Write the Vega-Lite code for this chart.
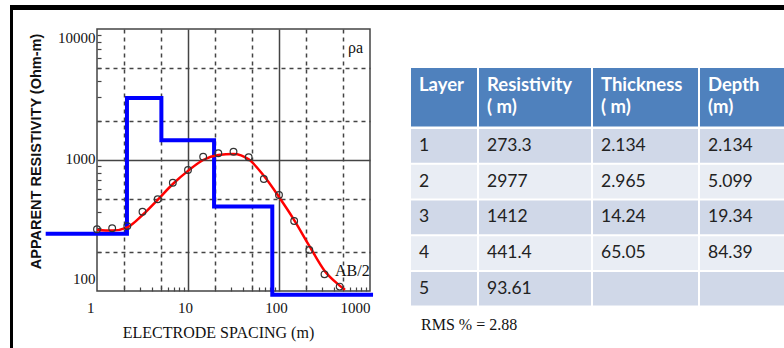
{
  "$schema": "https://vega.github.io/schema/vega-lite/v6.json",
  "background": "white",
  "padding": {"left": 10, "top": 5, "right": 0, "bottom": 0},
  "config": {"view": {"stroke": null}},
  "datasets": {
    "layers": [
      {"Layer": 1, "Resistivity": 273.3, "Thickness": 2.134, "Depth": 2.134},
      {"Layer": 2, "Resistivity": 2977, "Thickness": 2.965, "Depth": 5.099},
      {"Layer": 3, "Resistivity": 1412, "Thickness": 14.24, "Depth": 19.34},
      {"Layer": 4, "Resistivity": 441.4, "Thickness": 65.05, "Depth": 84.39},
      {"Layer": 5, "Resistivity": 93.61, "Thickness": null, "Depth": null}
    ],
    "model": [
      {"spacing": 0.273, "rho": 273.3},
      {"spacing": 2.134, "rho": 2977},
      {"spacing": 5.099, "rho": 1412},
      {"spacing": 19.34, "rho": 441.4},
      {"spacing": 84.39, "rho": 93.61},
      {"spacing": 1080, "rho": 93.61}
    ],
    "fit": [
      {"spacing": 1, "rho": 292},
      {"spacing": 1.468, "rho": 289},
      {"spacing": 2.154, "rho": 306},
      {"spacing": 3.162, "rho": 380},
      {"spacing": 4.642, "rho": 497},
      {"spacing": 6.813, "rho": 656},
      {"spacing": 10, "rho": 826},
      {"spacing": 14.68, "rho": 1000},
      {"spacing": 21.54, "rho": 1092},
      {"spacing": 31.62, "rho": 1113},
      {"spacing": 46.42, "rho": 1012},
      {"spacing": 68.13, "rho": 757},
      {"spacing": 100, "rho": 522},
      {"spacing": 146.8, "rho": 348},
      {"spacing": 215.4, "rho": 221},
      {"spacing": 316.2, "rho": 143},
      {"spacing": 464.2, "rho": 110},
      {"spacing": 530, "rho": 102}
    ],
    "observed": [
      {"spacing": 1, "rho": 296},
      {"spacing": 1.468, "rho": 301},
      {"spacing": 2.154, "rho": 313},
      {"spacing": 3.162, "rho": 403},
      {"spacing": 4.642, "rho": 501},
      {"spacing": 6.813, "rho": 671},
      {"spacing": 10, "rho": 839},
      {"spacing": 14.68, "rho": 1060},
      {"spacing": 21.54, "rho": 1125},
      {"spacing": 31.62, "rho": 1157},
      {"spacing": 46.42, "rho": 1049},
      {"spacing": 68.13, "rho": 716},
      {"spacing": 100, "rho": 541},
      {"spacing": 146.8, "rho": 342},
      {"spacing": 215.4, "rho": 206},
      {"spacing": 316.2, "rho": 134},
      {"spacing": 464.2, "rho": 108}
    ]
  },
  "spacing": 0,
  "resolve": {"scale": {"x": "independent", "y": "independent"}},
  "vconcat": [
    {"width": 774, "height": 5, "view": {"fill": "#000000", "stroke": null}, "data": {"values": []}, "mark": "point"},
    {
      "spacing": 14,
      "resolve": {"scale": {"x": "independent", "y": "independent"}},
      "hconcat": [
        {"width": 3, "height": 338, "view": {"fill": "#000000", "stroke": null}, "data": {"values": []}, "mark": "point"},
        {
          "spacing": 0,
          "resolve": {"scale": {"x": "independent", "y": "independent"}},
          "vconcat": [
            {"width": 1, "height": 18, "data": {"values": []}, "mark": "point"},
            {
              "width": 273,
              "height": 262,
              "view": {"stroke": "#444444", "strokeWidth": 1.5},
              "resolve": {"axis": {"x": "independent", "y": "independent"}},
              "layer": [
                {
                  "data": {"name": "model"},
                  "mark": {"type": "line", "interpolate": "step-after", "color": "#0000ff", "strokeWidth": 4, "clip": false},
                  "encoding": {
                    "x": {"field": "spacing", "type": "quantitative", "scale": {"type": "log", "domain": [1, 1000], "nice": false},
                      "axis": {"orient": "bottom", "values": [10, 100], "grid": true, "gridColor": "#444444", "gridWidth": 1.5, "ticks": false, "labels": false, "domain": false, "title": null}},
                    "y": {"field": "rho", "type": "quantitative", "scale": {"type": "log", "domain": [100, 10000], "nice": false},
                      "axis": {"orient": "left", "values": [1000], "grid": true, "gridColor": "#444444", "gridWidth": 1.5, "ticks": false, "labels": false, "domain": false, "title": null}}
                  }
                },
                {
                  "data": {"name": "fit"},
                  "mark": {"type": "line", "interpolate": "monotone", "color": "#ff0000", "strokeWidth": 2.5},
                  "encoding": {
                    "x": {"field": "spacing", "type": "quantitative", "scale": {"type": "log", "domain": [1, 1000], "nice": false},
                      "axis": {"orient": "bottom", "values": [1, 10, 100, 1000], "format": "d", "grid": false, "ticks": false, "tickSize": 0, "domain": false,
                        "labelFlush": false, "labelFont": "Liberation Serif", "labelFontSize": 15, "labelColor": "#111111", "labelPadding": 9,
                        "labelAlign": {"condition": {"test": "datum.value == 1 || datum.value == 1000", "value": "right"}, "value": "center"},
                        "labelOffset": {"condition": {"test": "datum.value == 1000", "value": 0}, "value": -3},
                        "title": "ELECTRODE SPACING (m)", "titleFont": "Liberation Serif", "titleFontSize": 16, "titleFontWeight": "normal", "titleColor": "#111111",
                        "titleX": 121, "titleY": 46, "titleBaseline": "alphabetic", "titleAlign": "center"}},
                    "y": {"field": "rho", "type": "quantitative", "scale": {"type": "log", "domain": [100, 10000], "nice": false},
                      "axis": {"orient": "left", "values": [100, 1000, 10000], "format": "d", "grid": false, "ticks": false, "tickSize": 0, "domain": false,
                        "labelFlush": false, "labelFont": "Liberation Serif", "labelFontSize": 15, "labelColor": "#111111", "labelPadding": 2, "labelBaseline": "middle",
                        "labelOffset": {"condition": [{"test": "datum.value == 10000", "value": 8}, {"test": "datum.value == 100", "value": -12.5}], "value": -1.5},
                        "title": "APPARENT RESISTIVITY (Ohm-m)", "titleFont": "Liberation Sans", "titleFontSize": 14.5, "titleFontWeight": "bold", "titleColor": "#111111",
                        "titleX": -57, "titleY": 122, "titleBaseline": "alphabetic", "titleAlign": "center"}}
                  }
                },
                {
                  "data": {"name": "observed"},
                  "mark": {"type": "point", "shape": "circle", "filled": false, "color": "#333333", "size": 45, "strokeWidth": 1.2, "opacity": 1},
                  "encoding": {
                    "x": {"field": "spacing", "type": "quantitative", "scale": {"type": "log", "domain": [1, 1000], "nice": false},
                      "axis": {"orient": "bottom", "values": [2, 5, 20, 50, 200, 500], "grid": true, "gridColor": "#444444", "gridWidth": 1.5, "gridDash": [4, 4], "ticks": false, "labels": false, "domain": false, "title": null}},
                    "y": {"field": "rho", "type": "quantitative", "scale": {"type": "log", "domain": [100, 10000], "nice": false},
                      "axis": {"orient": "left", "values": [200, 500, 2000, 5000], "grid": true, "gridColor": "#444444", "gridWidth": 1.5, "gridDash": [4, 4], "ticks": false, "labels": false, "domain": false, "title": null}}
                  }
                },
                {
                  "data": {"values": [{"label": "ρa"}]},
                  "mark": {"type": "text", "align": "left", "baseline": "alphabetic", "font": "Liberation Serif", "fontSize": 16, "color": "#111111"},
                  "encoding": {
                    "x": {"datum": 573, "type": "quantitative", "scale": {"type": "log", "domain": [1, 1000], "nice": false},
                      "axis": {"orient": "bottom", "values": [2, 3, 4, 5, 6, 7, 8, 9, 20, 30, 40, 50, 60, 70, 80, 90, 200, 300, 400, 500, 600, 700, 800, 900], "ticks": true, "tickSize": -4, "tickColor": "#444444", "tickWidth": 1.2, "labels": false, "grid": false, "domain": false, "title": null}},
                    "y": {"datum": 6600, "type": "quantitative", "scale": {"type": "log", "domain": [100, 10000], "nice": false},
                      "axis": {"orient": "left", "values": [200, 300, 400, 500, 600, 700, 800, 900, 2000, 3000, 4000, 5000, 6000, 7000, 8000, 9000], "ticks": true, "tickSize": -4, "tickColor": "#444444", "tickWidth": 1.2, "labels": false, "grid": false, "domain": false, "title": null}},
                    "text": {"field": "label", "type": "nominal"}
                  }
                },
                {
                  "data": {"values": [{"label": "AB/2"}]},
                  "mark": {"type": "text", "align": "left", "baseline": "alphabetic", "font": "Liberation Serif", "fontSize": 16, "color": "#111111"},
                  "encoding": {
                    "x": {"datum": 412, "type": "quantitative", "scale": {"type": "log", "domain": [1, 1000], "nice": false}, "axis": null},
                    "y": {"datum": 130, "type": "quantitative", "scale": {"type": "log", "domain": [100, 10000], "nice": false}, "axis": null},
                    "text": {"field": "label", "type": "nominal"}
                  }
                }
              ]
            }
          ]
        },
        {"width": 1, "height": 1, "data": {"values": []}, "mark": "point"},
        {
          "spacing": 2,
          "resolve": {"scale": {"x": "independent", "y": "independent"}},
          "vconcat": [
            {"width": 1, "height": 56, "data": {"values": []}, "mark": "point"},
            {
              "spacing": 2,
              "resolve": {"scale": {"x": "independent", "y": "independent"}},
              "hconcat": [
                {"width": 66, "height": 58.4, "view": {"fill": "#4f81bd", "stroke": null},
                 "data": {"values": [{"heading": "Layer"}]},
                 "mark": {"type": "text", "align": "left", "baseline": "top", "dx": 8, "dy": 8, "lineBreak": "\n", "lineHeight": 21.5, "font": "Lato", "fontSize": 18.5, "fontWeight": "bold", "color": "#ffffff"},
                 "encoding": {
                   "x": {"datum": "cell", "type": "nominal", "bandPosition": 0, "axis": null, "scale": {"type": "band", "paddingInner": 0, "paddingOuter": 0}},
                   "y": {"datum": "cell", "type": "nominal", "bandPosition": 0, "axis": null, "scale": {"type": "band", "paddingInner": 0, "paddingOuter": 0}},
                   "text": {"field": "heading", "type": "nominal"}}},
                {"width": 112, "height": 58.4, "view": {"fill": "#4f81bd", "stroke": null},
                 "data": {"values": [{"heading": "Resistivity\n( m)"}]},
                 "mark": {"type": "text", "align": "left", "baseline": "top", "dx": 8, "dy": 8, "lineBreak": "\n", "lineHeight": 21.5, "font": "Lato", "fontSize": 18.5, "fontWeight": "bold", "color": "#ffffff"},
                 "encoding": {
                   "x": {"datum": "cell", "type": "nominal", "bandPosition": 0, "axis": null, "scale": {"type": "band", "paddingInner": 0, "paddingOuter": 0}},
                   "y": {"datum": "cell", "type": "nominal", "bandPosition": 0, "axis": null, "scale": {"type": "band", "paddingInner": 0, "paddingOuter": 0}},
                   "text": {"field": "heading", "type": "nominal"}}},
                {"width": 105, "height": 58.4, "view": {"fill": "#4f81bd", "stroke": null},
                 "data": {"values": [{"heading": "Thickness\n( m)"}]},
                 "mark": {"type": "text", "align": "left", "baseline": "top", "dx": 8, "dy": 8, "lineBreak": "\n", "lineHeight": 21.5, "font": "Lato", "fontSize": 18.5, "fontWeight": "bold", "color": "#ffffff"},
                 "encoding": {
                   "x": {"datum": "cell", "type": "nominal", "bandPosition": 0, "axis": null, "scale": {"type": "band", "paddingInner": 0, "paddingOuter": 0}},
                   "y": {"datum": "cell", "type": "nominal", "bandPosition": 0, "axis": null, "scale": {"type": "band", "paddingInner": 0, "paddingOuter": 0}},
                   "text": {"field": "heading", "type": "nominal"}}},
                {"width": 84, "height": 58.4, "view": {"fill": "#4f81bd", "stroke": null},
                 "data": {"values": [{"heading": "Depth\n(m)"}]},
                 "mark": {"type": "text", "align": "left", "baseline": "top", "dx": 8, "dy": 8, "lineBreak": "\n", "lineHeight": 21.5, "font": "Lato", "fontSize": 18.5, "fontWeight": "bold", "color": "#ffffff"},
                 "encoding": {
                   "x": {"datum": "cell", "type": "nominal", "bandPosition": 0, "axis": null, "scale": {"type": "band", "paddingInner": 0, "paddingOuter": 0}},
                   "y": {"datum": "cell", "type": "nominal", "bandPosition": 0, "axis": null, "scale": {"type": "band", "paddingInner": 0, "paddingOuter": 0}},
                   "text": {"field": "heading", "type": "nominal"}}}
              ]
            },
            {
              "spacing": 2,
              "resolve": {"scale": {"x": "independent", "y": "independent"}},
              "title": {"text": "RMS % = 2.88", "orient": "bottom", "anchor": "start", "font": "Liberation Serif", "fontSize": 16, "fontWeight": "normal", "color": "#111111", "offset": 11, "dx": 10},
              "hconcat": [
                {"width": 66, "height": 176.6, "data": {"name": "layers"},
                 "layer": [
                   {"mark": {"type": "rect"},
                    "encoding": {
                      "x": {"datum": "cell", "type": "nominal", "axis": null, "scale": {"type": "band", "paddingInner": 0, "paddingOuter": 0}},
                      "y": {"field": "Layer", "type": "ordinal", "axis": null, "scale": {"type": "band", "paddingInner": 0.056, "paddingOuter": 0}},
                      "color": {"field": "Layer", "type": "ordinal", "legend": null, "scale": {"domain": [1, 2, 3, 4, 5], "range": ["#d0d8e8", "#e9edf4", "#d0d8e8", "#e9edf4", "#d0d8e8"]}}}},
                   {"mark": {"type": "text", "align": "left", "baseline": "middle", "dx": 8, "font": "Lato", "fontSize": 17.5, "color": "#222222"},
                    "encoding": {
                      "x": {"datum": "cell", "type": "nominal", "bandPosition": 0, "axis": null, "scale": {"type": "band", "paddingInner": 0, "paddingOuter": 0}},
                      "y": {"field": "Layer", "type": "ordinal", "axis": null, "scale": {"type": "band", "paddingInner": 0.056, "paddingOuter": 0}},
                      "text": {"field": "Layer", "type": "nominal"}}}
                 ]},
                {"width": 112, "height": 176.6, "data": {"name": "layers"},
                 "layer": [
                   {"mark": {"type": "rect"},
                    "encoding": {
                      "x": {"datum": "cell", "type": "nominal", "axis": null, "scale": {"type": "band", "paddingInner": 0, "paddingOuter": 0}},
                      "y": {"field": "Layer", "type": "ordinal", "axis": null, "scale": {"type": "band", "paddingInner": 0.056, "paddingOuter": 0}},
                      "color": {"field": "Layer", "type": "ordinal", "legend": null, "scale": {"domain": [1, 2, 3, 4, 5], "range": ["#d0d8e8", "#e9edf4", "#d0d8e8", "#e9edf4", "#d0d8e8"]}}}},
                   {"transform": [{"filter": "isValid(datum.Resistivity)"}],
                    "mark": {"type": "text", "align": "left", "baseline": "middle", "dx": 8, "font": "Lato", "fontSize": 17.5, "color": "#222222"},
                    "encoding": {
                      "x": {"datum": "cell", "type": "nominal", "bandPosition": 0, "axis": null, "scale": {"type": "band", "paddingInner": 0, "paddingOuter": 0}},
                      "y": {"field": "Layer", "type": "ordinal", "axis": null, "scale": {"type": "band", "paddingInner": 0.056, "paddingOuter": 0}},
                      "text": {"field": "Resistivity", "type": "nominal"}}}
                 ]},
                {"width": 105, "height": 176.6, "data": {"name": "layers"},
                 "layer": [
                   {"mark": {"type": "rect"},
                    "encoding": {
                      "x": {"datum": "cell", "type": "nominal", "axis": null, "scale": {"type": "band", "paddingInner": 0, "paddingOuter": 0}},
                      "y": {"field": "Layer", "type": "ordinal", "axis": null, "scale": {"type": "band", "paddingInner": 0.056, "paddingOuter": 0}},
                      "color": {"field": "Layer", "type": "ordinal", "legend": null, "scale": {"domain": [1, 2, 3, 4, 5], "range": ["#d0d8e8", "#e9edf4", "#d0d8e8", "#e9edf4", "#d0d8e8"]}}}},
                   {"transform": [{"filter": "isValid(datum.Thickness)"}],
                    "mark": {"type": "text", "align": "left", "baseline": "middle", "dx": 8, "font": "Lato", "fontSize": 17.5, "color": "#222222"},
                    "encoding": {
                      "x": {"datum": "cell", "type": "nominal", "bandPosition": 0, "axis": null, "scale": {"type": "band", "paddingInner": 0, "paddingOuter": 0}},
                      "y": {"field": "Layer", "type": "ordinal", "axis": null, "scale": {"type": "band", "paddingInner": 0.056, "paddingOuter": 0}},
                      "text": {"field": "Thickness", "type": "nominal"}}}
                 ]},
                {"width": 84, "height": 176.6, "data": {"name": "layers"},
                 "layer": [
                   {"mark": {"type": "rect"},
                    "encoding": {
                      "x": {"datum": "cell", "type": "nominal", "axis": null, "scale": {"type": "band", "paddingInner": 0, "paddingOuter": 0}},
                      "y": {"field": "Layer", "type": "ordinal", "axis": null, "scale": {"type": "band", "paddingInner": 0.056, "paddingOuter": 0}},
                      "color": {"field": "Layer", "type": "ordinal", "legend": null, "scale": {"domain": [1, 2, 3, 4, 5], "range": ["#d0d8e8", "#e9edf4", "#d0d8e8", "#e9edf4", "#d0d8e8"]}}}},
                   {"transform": [{"filter": "isValid(datum.Depth)"}],
                    "mark": {"type": "text", "align": "left", "baseline": "middle", "dx": 8, "font": "Lato", "fontSize": 17.5, "color": "#222222"},
                    "encoding": {
                      "x": {"datum": "cell", "type": "nominal", "bandPosition": 0, "axis": null, "scale": {"type": "band", "paddingInner": 0, "paddingOuter": 0}},
                      "y": {"field": "Layer", "type": "ordinal", "axis": null, "scale": {"type": "band", "paddingInner": 0.056, "paddingOuter": 0}},
                      "text": {"field": "Depth", "type": "nominal"}}}
                 ]}
              ]
            }
          ]
        }
      ]
    }
  ]
}
